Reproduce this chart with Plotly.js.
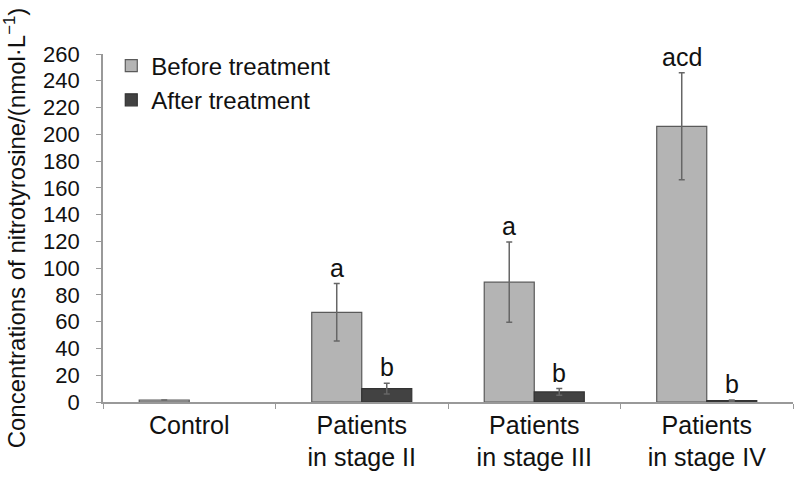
<!DOCTYPE html>
<html>
<head>
<meta charset="utf-8">
<script src="https://cdn.plot.ly/plotly-3.0.1.min.js"></script>
<style>
  html, body { margin: 0; padding: 0; background: #fff; }
  #plot { width: 796px; height: 478px; }
</style>
</head>
<body>
<div id="plot"></div>
<script>
var groups = ['Control', 'Patients<br>in stage II', 'Patients<br>in stage III', 'Patients<br>in stage IV'];
var beforeVals = [1.5, 67, 89.5, 206];
var beforeErr = [0, 21.5, 30, 40];
var afterVals = [null, 10, 7.5, 1];
var afterErr = [0, 4, 2.5, 0.5];
var beforeMarks = ['', 'a', 'a', 'acd'];
var afterMarks = ['', 'b', 'b', 'b'];

var font = 'Liberation Sans, Arial, sans-serif';

var traceBefore = {
    x: groups,
    y: beforeVals,
    name: 'Before treatment',
    type: 'bar',
    marker: { color: '#b4b4b4', line: { color: '#5a5a5a', width: 1.2 } },
    error_y: { type: 'data', array: beforeErr, visible: true, color: '#666', thickness: 1.5, width: 3 }
};

var traceAfter = {
    x: groups,
    y: afterVals,
    name: 'After treatment',
    type: 'bar',
    marker: { color: '#424242', line: { color: '#333', width: 1.2 } },
    error_y: { type: 'data', array: afterErr, visible: true, color: '#666', thickness: 1.5, width: 3 }
};

// letters above the error bars
var annotations = [];
for (var i = 0; i < groups.length; i++) {
    if (beforeMarks[i]) {
        annotations.push({
            x: i, y: beforeVals[i] + beforeErr[i], xref: 'x', yref: 'y',
            xshift: -25, yshift: 0, yanchor: 'bottom',
            text: beforeMarks[i], showarrow: false,
            font: { family: font, size: 25, color: '#111' }
        });
    }
    if (afterMarks[i]) {
        annotations.push({
            x: i, y: afterVals[i] + afterErr[i], xref: 'x', yref: 'y',
            xshift: 25, yshift: 0, yanchor: 'bottom',
            text: afterMarks[i], showarrow: false,
            font: { family: font, size: 25, color: '#111' }
        });
    }
}

var layout = {
    width: 796,
    height: 478,
    margin: { l: 103, r: 3, t: 54, b: 76 },
    paper_bgcolor: '#fff',
    plot_bgcolor: '#fff',
    font: { family: font, size: 22, color: '#111' },
    barmode: 'group',
    bargap: 0.42,
    bargroupgap: 0,
    showlegend: true,
    legend: {
        x: 0.012, y: 1.03, xanchor: 'left', yanchor: 'top',
        bgcolor: 'rgba(0,0,0,0)',
        font: { family: font, size: 24 },
        itemwidth: 30,
        tracegroupgap: 0
    },
    xaxis: {
        type: 'category',
        showline: true,
        linecolor: '#999',
        linewidth: 1.5,
        ticks: 'outside',
        tickson: 'boundaries',
        ticklen: 5,
        tickcolor: '#999',
        showgrid: false,
        tickfont: { family: font, size: 25 }
    },
    yaxis: {
        range: [0, 260],
        dtick: 20,
        showline: true,
        linecolor: '#999',
        linewidth: 1.5,
        ticks: 'outside',
        ticklen: 5,
        tickcolor: '#999',
        ticksuffix: '\u00a0\u00a0',
        showgrid: false,
        zeroline: false,
        tickfont: { family: font, size: 22 },
        title: {
            text: 'Concentrations of nitrotyrosine/(nmol·L<sup>−1</sup>)',
            font: { family: font, size: 24 },
            standoff: 12
        }
    },
    annotations: annotations
};

Plotly.newPlot('plot', [traceBefore, traceAfter], layout, { displayModeBar: false });
</script>
</body>
</html>
